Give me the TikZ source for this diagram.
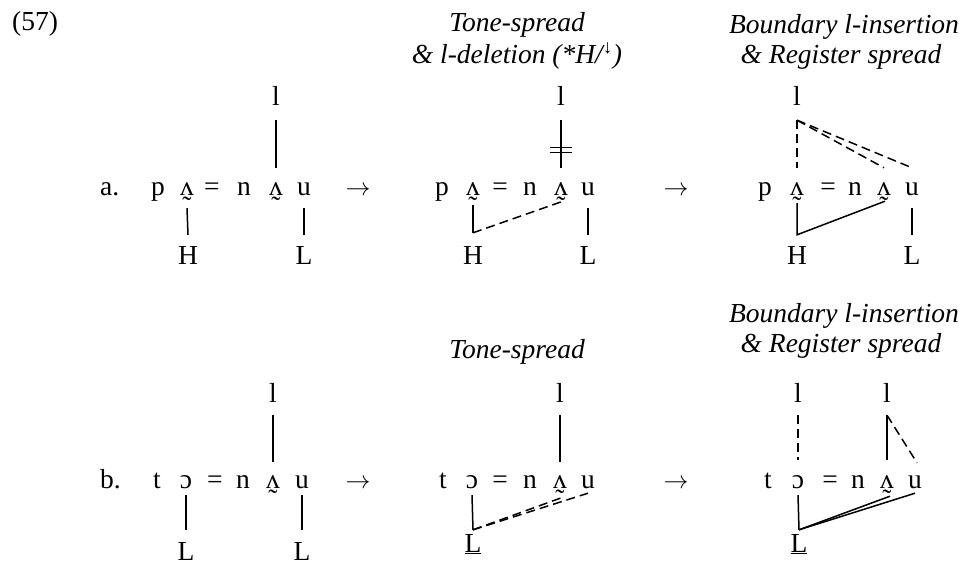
\documentclass[tikz,border=0pt]{standalone}
\usepackage{fontspec}
\setmainfont{Liberation Serif}
\newcommand\vtil{\ooalign{ʌ\cr\hidewidth\raisebox{-0.73em}{˜}\hidewidth\cr}}
\begin{document}
\begin{tikzpicture}[x=1pt,y=-1pt,
  every node/.style={font=\fontsize{27.5}{33}\selectfont},
  seg/.style={inner sep=0pt, anchor=base, text height=12pt, text depth=0pt},
  tone/.style={inner sep=0pt, anchor=base, text height=18pt, text depth=0pt},
  lab/.style={inner sep=0pt, anchor=base},
  hdr/.style={inner sep=0pt, anchor=base, font=\fontsize{27.5}{33}\selectfont\itshape},
  tie/.style={line width=1.5pt},
  dtie/.style={line width=1.5pt, dash pattern=on 9pt off 5pt},
]
\useasboundingbox (0,0) rectangle (966,565);

% labels
\node[lab, anchor=base west] (ex) at (12,30) {(57)};
\node[lab, anchor=base west] (la) at (100,195) {a.};
\node[lab, anchor=base west] (lb) at (100,488) {b.};
\node[lab] (arA1) at (358,195) {$\rightarrow$};
\node[lab] (arA2) at (676,195) {$\rightarrow$};
\node[lab] (arB1) at (358,488) {$\rightarrow$};
\node[lab] (arB2) at (676,488) {$\rightarrow$};

% headers
\node[hdr] (hA2a) at (517,31) {Tone-spread};
\node[hdr] (hA2b) at (517,63) {\& l-deletion (*H/\textsuperscript{\upshape ↓})};
\node[hdr] (hA3a) at (844,33) {Boundary l-insertion};
\node[hdr] (hA3b) at (841,63) {\& Register spread};
\node[hdr] (hB2a) at (517,358) {Tone-spread};
\node[hdr] (hB3a) at (844,322) {Boundary l-insertion};
\node[hdr] (hB3b) at (841,352) {\& Register spread};

% ---------- row a, column 1
\node[seg] (A1p) at (158,195) {p};
\node[seg] (A1v1) at (187,195) {\vtil};
\node[seg] (A1eq) at (212,195) {=};
\node[seg] (A1n) at (244,195) {n};
\node[seg] (A1v2) at (276,195) {\vtil};
\node[seg] (A1u) at (304,195) {u};
\node[tone] (A1l) at (276,105) {l};
\node[tone] (A1H) at (188,264) {H};
\node[tone] (A1L) at (304,264) {L};
\draw[tie] ([yshift=-15pt]A1l.south) -- ([yshift=15pt]A1v2.north);
\draw[tie] ([yshift=-13pt]A1v1.south) -- ([yshift=11pt]A1H.north);
\draw[tie] ([yshift=-13pt]A1u.south) -- ([yshift=11pt]A1L.north);

% ---------- row a, column 2
\node[seg] (A2p) at (442,195) {p};
\node[seg] (A2v1) at (473,195) {\vtil};
\node[seg] (A2eq) at (500,195) {=};
\node[seg] (A2n) at (530,195) {n};
\node[seg] (A2v2) at (561,195) {\vtil};
\node[seg] (A2u) at (588,195) {u};
\node[tone] (A2l) at (561,105) {l};
\node[tone] (A2H) at (473,264) {H};
\node[tone] (A2L) at (588,264) {L};
\draw[tie] ([yshift=-15pt]A2l.south) -- coordinate[pos=0.63] (A2cut) ([yshift=15pt]A2v2.north);
\draw[tie] ([xshift=-11pt,yshift=2.5pt]A2cut) -- ([xshift=11pt,yshift=2.5pt]A2cut);
\draw[tie] ([xshift=-11pt,yshift=-2.5pt]A2cut) -- ([xshift=11pt,yshift=-2.5pt]A2cut);
\draw[tie] ([yshift=-10pt]A2v1.south) -- ([yshift=13pt]A2H.north);
\draw[dtie] ([yshift=13pt]A2H.north) -- ([xshift=2pt,yshift=-6pt]A2v2.south);
\draw[tie] ([yshift=-13pt]A2u.south) -- ([yshift=11pt]A2L.north);

% ---------- row a, column 3
\node[seg] (A3p) at (765,195) {p};
\node[seg] (A3v1) at (797,195) {\vtil};
\node[seg] (A3eq) at (828,195) {=};
\node[seg] (A3n) at (855,195) {n};
\node[seg] (A3v2) at (884,195) {\vtil};
\node[seg] (A3u) at (912,195) {u};
\node[tone] (A3l) at (797,105) {l};
\node[tone] (A3H) at (797,264) {H};
\node[tone] (A3L) at (912,264) {L};
\draw[dtie] ([yshift=-15pt]A3l.south) -- ([yshift=15pt]A3v1.north);
\draw[dtie] ([yshift=-15pt]A3l.south) -- ([yshift=15pt]A3v2.north);
\draw[dtie] ([yshift=-15pt]A3l.south) -- ([yshift=15pt]A3u.north);
\draw[tie] ([yshift=-8pt]A3v1.south) -- ([yshift=11pt]A3H.north) -- ([xshift=1pt,yshift=-6pt]A3v2.south);
\draw[tie] ([yshift=-13pt]A3u.south) -- ([yshift=11pt]A3L.north);

% ---------- row b, column 1
\node[seg] (B1t) at (157,488) {t};
\node[seg] (B1o) at (186,488) {ɔ};
\node[seg] (B1eq) at (215,488) {=};
\node[seg] (B1n) at (243,488) {n};
\node[seg] (B1v) at (273,488) {\vtil};
\node[seg] (B1u) at (302,488) {u};
\node[tone] (B1l) at (273,402) {l};
\node[tone] (B1La) at (186,560) {L};
\node[tone] (B1Lb) at (302,560) {L};
\draw[tie] ([yshift=-13pt]B1l.south) -- ([yshift=14pt]B1v.north);
\draw[tie] ([yshift=-7pt]B1o.south) -- ([yshift=12pt]B1La.north);
\draw[tie] ([yshift=-7pt]B1u.south) -- ([yshift=12pt]B1Lb.north);

% ---------- row b, column 2
\node[seg] (B2t) at (443,488) {t};
\node[seg] (B2o) at (472,488) {ɔ};
\node[seg] (B2eq) at (500,488) {=};
\node[seg] (B2n) at (530,488) {n};
\node[seg] (B2v) at (560,488) {\vtil};
\node[seg] (B2u) at (588,488) {u};
\node[tone] (B2l) at (560,402) {l};
\node[tone] (B2L) at (473,552) {\underline{L}};
\draw[tie] ([yshift=-13pt]B2l.south) -- ([yshift=14pt]B2v.north);
\draw[tie] ([yshift=-7pt]B2o.south) -- ([yshift=4pt]B2L.north);
\draw[dtie] ([yshift=4pt]B2L.north) -- ([xshift=3pt,yshift=-9pt]B2v.south);
\draw[dtie] ([yshift=4pt]B2L.north) -- ([yshift=-5pt]B2u.south);

% ---------- row b, column 3
\node[seg] (B3t) at (768,488) {t};
\node[seg] (B3o) at (798,488) {ɔ};
\node[seg] (B3eq) at (830,488) {=};
\node[seg] (B3n) at (858,488) {n};
\node[seg] (B3v) at (887,488) {\vtil};
\node[seg] (B3u) at (915,488) {u};
\node[tone] (B3la) at (798,402) {l};
\node[tone] (B3lb) at (887,402) {l};
\node[tone] (B3L) at (799,552) {\underline{L}};
\draw[dtie] ([yshift=-13pt]B3la.south) -- ([yshift=16pt]B3o.north);
\draw[tie] ([yshift=-13pt]B3lb.south) -- ([yshift=16pt]B3v.north);
\draw[dtie] ([yshift=-13pt]B3lb.south) -- ([xshift=2pt,yshift=13pt]B3u.north);
\draw[tie] ([yshift=-7pt]B3o.south) -- ([yshift=4pt]B3L.north);
\draw[tie] ([yshift=4pt]B3L.north) -- ([xshift=3pt,yshift=-8pt]B3v.south);
\draw[tie] ([yshift=4pt]B3L.north) -- ([yshift=-5pt]B3u.south);
\end{tikzpicture}
\end{document}
